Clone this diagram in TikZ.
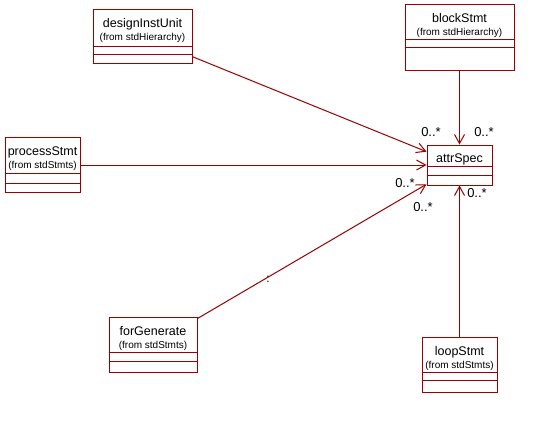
\documentclass[tikz,border=0pt]{standalone}
\usepackage{fontspec}
\setmainfont{Liberation Sans}
\usetikzlibrary{arrows.meta,positioning}
\definecolor{roseRed}{RGB}{153,0,0}

\begin{document}
\begin{tikzpicture}[x=1pt, y=-1pt, line width=1pt,
    cls/.style={draw=roseRed, rectangle, inner sep=0pt},
    clsname/.style={font=\fontsize{12.5}{14}\selectfont, inner sep=0pt, text height=9pt, text depth=3pt},
    clsfrom/.style={font=\fontsize{10}{12}\selectfont, inner sep=0pt, text height=8pt, text depth=2.5pt},
    mult/.style={font=\fontsize{13}{15}\selectfont, inner sep=0pt},
    assoc/.style={draw=roseRed, -{Straight Barb[length=9pt,width=10pt]}}]
    \useasboundingbox (0,0) rectangle (545,420);
    % classes
    \node[cls, minimum width=99, minimum height=53] (dsgn) at (142.5,36.5) {};
    \node[cls, minimum width=109, minimum height=65] (block) at (459.5,37.5) {};
    \node[cls, minimum width=65, minimum height=40] (attr) at (459.5,165) {};
    \node[cls, minimum width=75, minimum height=55] (proc) at (42.5,165) {};
    \node[cls, minimum width=88, minimum height=55] (forg) at (153,344.5) {};
    \node[cls, minimum width=75, minimum height=55] (loop) at (459.5,364.5) {};
    \node[clsname, below=9pt of dsgn.north] (dsgnname) {designInstUnit};
    \node[clsfrom, below=23pt of dsgn.north] (dsgnfrom) {(from stdHierarchy)};
    \node[clsname, below=9pt of block.north] (blockname) {blockStmt};
    \node[clsfrom, below=23pt of block.north] (blockfrom) {(from stdHierarchy)};
    \node[clsname, below=8pt of attr.north] (attrname) {attrSpec};
    \node[clsname, below=9pt of proc.north] (procname) {processStmt};
    \node[clsfrom, below=23pt of proc.north] (procfrom) {(from stdStmts)};
    \node[clsname, below=9pt of forg.north] (forgname) {forGenerate};
    \node[clsfrom, below=23pt of forg.north] (forgfrom) {(from stdStmts)};
    \node[clsname, below=9pt of loop.north] (loopname) {loopStmt};
    \node[clsfrom, below=23pt of loop.north] (loopfrom) {(from stdStmts)};
    % compartments
    \draw[roseRed] ([yshift=-37pt]dsgn.north west) -- ([yshift=-37pt]dsgn.north east);
    \draw[roseRed] ([yshift=-45pt]dsgn.north west) -- ([yshift=-45pt]dsgn.north east);
    \draw[roseRed] ([yshift=-35pt]block.north west) -- ([yshift=-35pt]block.north east);
    \draw[roseRed] ([yshift=-43pt]block.north west) -- ([yshift=-43pt]block.north east);
    \draw[roseRed] ([yshift=-22pt]attr.north west) -- ([yshift=-22pt]attr.north east);
    \draw[roseRed] ([yshift=-31pt]attr.north west) -- ([yshift=-31pt]attr.north east);
    \draw[roseRed] ([yshift=-36pt]proc.north west) -- ([yshift=-36pt]proc.north east);
    \draw[roseRed] ([yshift=-46pt]proc.north west) -- ([yshift=-46pt]proc.north east);
    \draw[roseRed] ([yshift=-36pt]forg.north west) -- ([yshift=-36pt]forg.north east);
    \draw[roseRed] ([yshift=-45pt]forg.north west) -- ([yshift=-45pt]forg.north east);
    \draw[roseRed] ([yshift=-36pt]loop.north west) -- ([yshift=-36pt]loop.north east);
    \draw[roseRed] ([yshift=-44pt]loop.north west) -- ([yshift=-44pt]loop.north east);
    % associations
    \draw[assoc] (dsgn) -- (attr);
    \draw[assoc] (block) -- (attr);
    \draw[assoc] (proc) -- (attr);
    \draw[assoc] (forg) -- (attr);
    \draw[assoc] (loop) -- (attr);
    \node[mult] (m1) at (431,132) {0..*};
    \node[mult] (m2) at (484,132) {0..*};
    \node[mult] (m3) at (405,183) {0..*};
    \node[mult] (m4) at (423,207) {0..*};
    \node[mult] (m5) at (477,193) {0..*};
    \node[font=\fontsize{12}{14}\selectfont, inner sep=0pt] (forgsep) at (268,279) {:};
\end{tikzpicture}
\end{document}
